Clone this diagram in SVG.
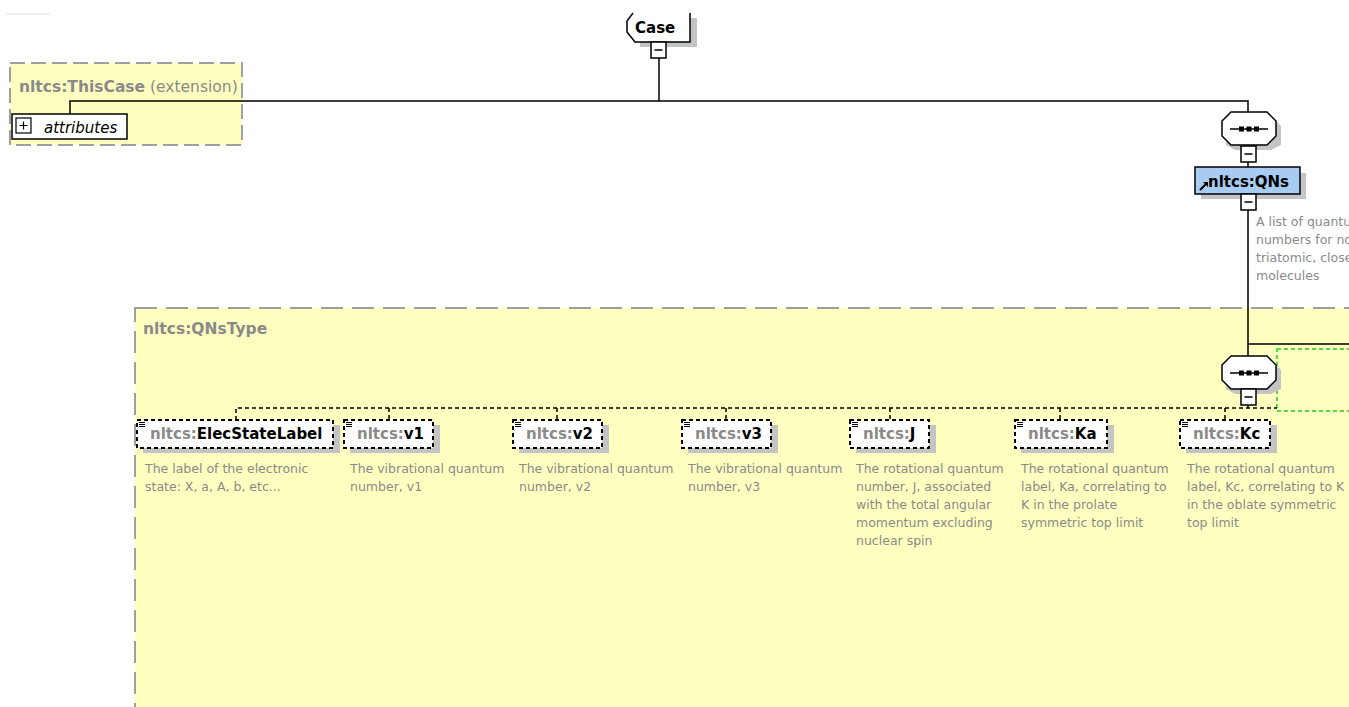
<svg xmlns="http://www.w3.org/2000/svg" width="1349" height="707" viewBox="0 0 1349 707">
<style>
.bg{fill:#ffffff}
.typebox{fill:#ffffc0;stroke:#a0a0a0;stroke-width:2}
.tname{font-family:"DejaVu Sans",sans-serif;font-size:15.5px;font-weight:bold;fill:#8a8a8a}
.ext{font-family:"DejaVu Sans",sans-serif;font-size:15.5px;fill:#8a8a8a}
.shadow{fill:#c4c4c4}
.elem{fill:#ffffff;stroke:#000;stroke-width:2;stroke-dasharray:4 3}
.ns{font-family:"DejaVu Sans",sans-serif;font-size:15px;font-weight:bold;fill:#8a8a8a}
.loc{fill:#000}
.desc{font-family:"DejaVu Sans",sans-serif;font-size:12.5px;fill:#8a8a8a}
.wire{fill:none;stroke:#000;stroke-width:1.5}
.dwire{fill:none;stroke:#000;stroke-width:1.5;stroke-dasharray:4 3}
</style>
<defs>
<g id="seq">
<polygon class="shadow" points="13,4 49,4 59,14 59,33 49,38 13,38 4,33 4,14"/>
<polygon points="9,0 45,0 54,9 54,24 45,33 9,33 0,24 0,9" fill="#fff" stroke="#000" stroke-width="1.5"/>
<line x1="8" y1="17" x2="46" y2="17" stroke="#000" stroke-width="1.5"/>
<rect x="17" y="14.5" width="5" height="5" fill="#000"/>
<rect x="24.5" y="14.5" width="5" height="5" fill="#000"/>
<rect x="32" y="14.5" width="5" height="5" fill="#000"/>
</g>
<g id="minus">
<rect x="0" y="0" width="15" height="16" fill="#fff" stroke="#000" stroke-width="1.5"/>
<line x1="3.5" y1="8" x2="11.5" y2="8" stroke="#000" stroke-width="1.5"/>
</g>
<path id="docicon" d="M0,0.5 H6 M0,2.5 H6 M0,4.5 H6" stroke="#000" stroke-width="1" fill="none"/>
</defs>
<rect class="bg" x="0" y="0" width="1349" height="707"/>
<line x1="6" y1="14" x2="50" y2="14" stroke="#efefef" stroke-width="2"/>

<g id="ThisCase">
<rect class="typebox" x="10" y="63" width="232" height="82" stroke-dasharray="15 6"/>
<text x="19" y="92"><tspan class="tname">nltcs:ThisCase</tspan><tspan class="ext"> (extension)</tspan></text>
<rect x="12" y="114" width="115" height="25" fill="#fff" stroke="#000" stroke-width="1.5"/>
<rect x="16" y="118" width="15" height="15" fill="#fff" stroke="#000" stroke-width="1.2"/>
<path d="M19.5,125.5 H27.5 M23.5,121.5 V129.5" stroke="#000" stroke-width="1.2"/>
<text x="44" y="133" font-family="DejaVu Sans, sans-serif" font-size="15" font-style="italic" fill="#000">attributes</text>
</g>

<g id="QNsType">
<rect class="typebox" x="135" y="308" width="1230" height="420" stroke-dasharray="22 9"/>
<text class="tname" x="143" y="334">nltcs:QNsType</text>
<rect x="1277" y="349" width="90" height="62" fill="none" stroke="#22cc22" stroke-width="1.5" stroke-dasharray="4 3"/>
</g>

<g id="connectors">
<path class="wire" d="M659,58 V101 M70,114 V101 H1248 V112"/>
<path class="wire" d="M1248,161 V168 M1248,209 V356 M1248,344 H1349"/>
<path class="wire" d="M1248,405 V408"/>
<path class="dwire" d="M236,420 V408 H1277 M389,408 V420 M557,408 V420 M726,408 V420 M890,408 V420 M1060,408 V420 M1225,408 V420"/>
</g>

<g id="Case">
<path class="shadow" d="M690,18 H697 V47 H640 V42 H690 Z"/>
<path d="M633,13 L627,21 V32 L635,42 H690 V13" fill="#fff" stroke="#000" stroke-width="1.5"/>
<text x="635" y="33" font-family="DejaVu Sans, sans-serif" font-size="15" font-weight="bold" fill="#000">Case</text>
<use href="#minus" x="651" y="42"/>
</g>

<g id="seq1">
<use href="#seq" x="1222" y="112"/>
<use href="#minus" x="1241" y="146"/>
</g>

<g id="QNs">
<rect class="shadow" x="1201" y="173" width="105" height="26"/>
<rect x="1195" y="167" width="105" height="27" fill="#a8cbf2" stroke="#000" stroke-width="1.5"/>
<path d="M1200,190 L1206,184" stroke="#000" stroke-width="2"/>
<polygon points="1203,182 1208,182 1208,187" fill="#000"/>
<text x="1208" y="187" font-family="DejaVu Sans, sans-serif" font-size="15" font-weight="bold" fill="#000">nltcs:QNs</text>
<use href="#minus" x="1241" y="194"/>
<text class="desc"><tspan x="1256" y="226">A list of quantu</tspan><tspan x="1256" y="244">numbers for no</tspan><tspan x="1256" y="262">triatomic, close</tspan><tspan x="1256" y="280">molecules</tspan></text>
</g>

<g id="seq2">
<use href="#seq" x="1222" y="356"/>
<use href="#minus" x="1241" y="389"/>
</g>

<g id="ElecStateLabel">
<rect class="shadow" x="143" y="425" width="197" height="28"/>
<rect class="elem" x="137" y="420" width="196" height="28"/>
<use href="#docicon" x="139" y="422"/>
<text class="ns" x="150" y="439">nltcs:<tspan class="loc">ElecStateLabel</tspan></text>
<text class="desc"><tspan x="145" y="473">The label of the electronic</tspan><tspan x="145" y="491">state: X, a, A, b, etc...</tspan></text>
</g>

<g id="v1">
<rect class="shadow" x="350" y="425" width="90" height="28"/>
<rect class="elem" x="344" y="420" width="89" height="28"/>
<use href="#docicon" x="346" y="422"/>
<text class="ns" x="357" y="439">nltcs:<tspan class="loc">v1</tspan></text>
<text class="desc"><tspan x="350" y="473">The vibrational quantum</tspan><tspan x="350" y="491">number, v1</tspan></text>
</g>

<g id="v2">
<rect class="shadow" x="519" y="425" width="90" height="28"/>
<rect class="elem" x="513" y="420" width="89" height="28"/>
<use href="#docicon" x="515" y="422"/>
<text class="ns" x="526" y="439">nltcs:<tspan class="loc">v2</tspan></text>
<text class="desc"><tspan x="519" y="473">The vibrational quantum</tspan><tspan x="519" y="491">number, v2</tspan></text>
</g>

<g id="v3">
<rect class="shadow" x="688" y="425" width="90" height="28"/>
<rect class="elem" x="682" y="420" width="89" height="28"/>
<use href="#docicon" x="684" y="422"/>
<text class="ns" x="695" y="439">nltcs:<tspan class="loc">v3</tspan></text>
<text class="desc"><tspan x="688" y="473">The vibrational quantum</tspan><tspan x="688" y="491">number, v3</tspan></text>
</g>

<g id="J">
<rect class="shadow" x="856" y="425" width="80" height="28"/>
<rect class="elem" x="850" y="420" width="79" height="28"/>
<use href="#docicon" x="852" y="422"/>
<text class="ns" x="863" y="439">nltcs:<tspan class="loc">J</tspan></text>
<text class="desc"><tspan x="856" y="473">The rotational quantum</tspan><tspan x="856" y="491">number, J, associated</tspan><tspan x="856" y="509">with the total angular</tspan><tspan x="856" y="527">momentum excluding</tspan><tspan x="856" y="545">nuclear spin</tspan></text>
</g>

<g id="Ka">
<rect class="shadow" x="1021" y="425" width="93" height="28"/>
<rect class="elem" x="1015" y="420" width="92" height="28"/>
<use href="#docicon" x="1017" y="422"/>
<text class="ns" x="1028" y="439">nltcs:<tspan class="loc">Ka</tspan></text>
<text class="desc"><tspan x="1021" y="473">The rotational quantum</tspan><tspan x="1021" y="491">label, Ka, correlating to</tspan><tspan x="1021" y="509">K in the prolate</tspan><tspan x="1021" y="527">symmetric top limit</tspan></text>
</g>

<g id="Kc">
<rect class="shadow" x="1186" y="425" width="91" height="28"/>
<rect class="elem" x="1180" y="420" width="90" height="28"/>
<use href="#docicon" x="1182" y="422"/>
<text class="ns" x="1193" y="439">nltcs:<tspan class="loc">Kc</tspan></text>
<text class="desc"><tspan x="1187" y="473">The rotational quantum</tspan><tspan x="1187" y="491">label, Kc, correlating to K</tspan><tspan x="1187" y="509">in the oblate symmetric</tspan><tspan x="1187" y="527">top limit</tspan></text>
</g>
</svg>
